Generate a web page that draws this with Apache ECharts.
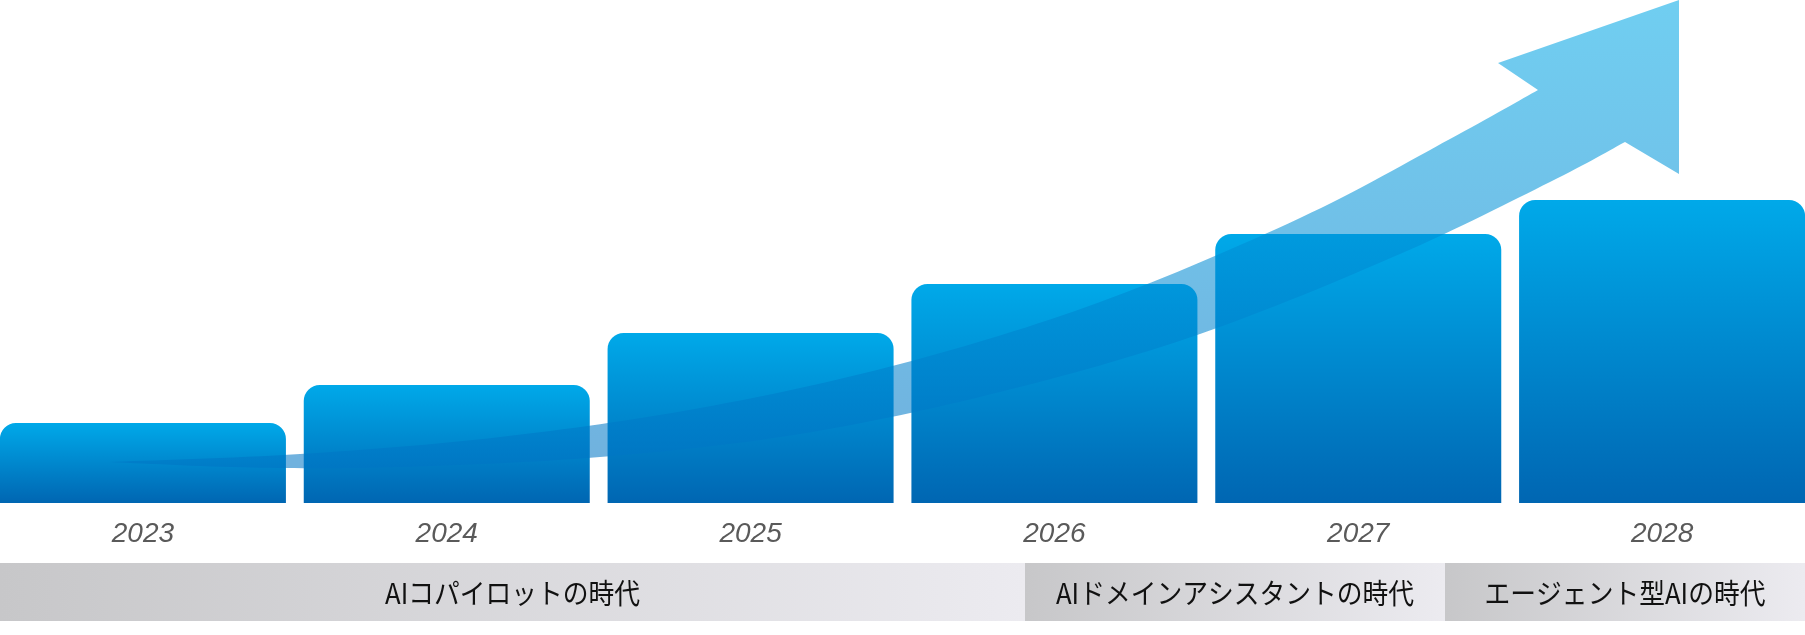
<!DOCTYPE html>
<html>
<head>
<meta charset="utf-8">
<script src="https://cdn.jsdelivr.net/npm/echarts@6/dist/echarts.min.js"></script>
<style>
html,body{margin:0;padding:0;background:#fff;overflow:hidden;width:1805px;height:635px;position:relative;}
#main{position:absolute;left:-9px;top:0;width:1823px;height:635px;}
</style>
</head>
<body>
<div id="main"></div>
<script>
// ---- data ----
const years = ['2023', '2024', '2025', '2026', '2027', '2028'];
const values = [80, 118, 170, 219, 269, 303];
const eraLabels = ['AIコパイロットの時代', 'AIドメインアシスタントの時代', 'エージェント型AIの時代'];

// ---- layout (decoration, page pixels) ----
const OX = 9; // chart canvas is shifted 9px left of the page
const eraSpans = [[0, 1025], [1025, 1445], [1445, 1805]];
const arrowUpper = [[109,462],[300,454],[500,437],[700,408],[900,364],[1100,302],[1300,218],[1450,139],[1538,90]];
const arrowLower = [[109,462],[250,467.5],[400,467],[600,457],[800,434],[1000,392],[1200,334],[1400,254],[1550,182],[1625,142]];
const arrowHead = [[1498,63],[1679,0],[1679,174]];

function catmull(pts, steps) {
  const out = [];
  for (let i = 0; i < pts.length - 1; i++) {
    const p0 = pts[Math.max(i - 1, 0)], p1 = pts[i], p2 = pts[i + 1], p3 = pts[Math.min(i + 2, pts.length - 1)];
    for (let s = 0; s < steps; s++) {
      const t = s / steps, t2 = t * t, t3 = t2 * t;
      const f = (a, b, c, d) => 0.5 * ((2 * b) + (-a + c) * t + (2 * a - 5 * b + 4 * c - d) * t2 + (-a + 3 * b - 3 * c + d) * t3);
      out.push([f(p0[0], p1[0], p2[0], p3[0]), f(p0[1], p1[1], p2[1], p3[1])]);
    }
  }
  out.push(pts[pts.length - 1]);
  return out;
}

const up = catmull(arrowUpper, 16);
const lo = catmull(arrowLower, 16).reverse();
const arrowPoly = up.concat(arrowHead, lo).map(p => [p[0] + OX, p[1]]);

const chart = echarts.init(document.getElementById('main'), null, {renderer: 'canvas'});

const graphics = [];
eraSpans.forEach((sp, i) => {
  graphics.push({
    type: 'rect',
    z: 1,
    shape: {x: sp[0] + OX, y: 563, width: sp[1] - sp[0], height: 58},
    style: {
      fill: new echarts.graphic.LinearGradient(0, 0, 1, 0, [
        {offset: 0, color: '#c7c7c9'},
        {offset: 1, color: '#ecebf0'}
      ])
    }
  });
  graphics.push({
    type: 'text',
    z: 2,
    x: (sp[0] + sp[1]) / 2 + OX,
    y: 593,
    scaleX: 0.92,
    style: {
      text: eraLabels[i],
      fill: '#111',
      font: '28px "Noto Sans CJK JP", sans-serif',
      align: 'center',
      verticalAlign: 'middle'
    }
  });
});
graphics.push({
  type: 'polygon',
  z: 100,
  shape: {points: arrowPoly},
  style: {
    fill: new echarts.graphic.LinearGradient(0, 0, 0, 470, [
      {offset: 0, color: 'rgba(0,168,230,0.56)'},
      {offset: 1, color: 'rgba(0,116,196,0.56)'}
    ], true)
  }
});

chart.setOption({
  animation: false,
  backgroundColor: '#ffffff',
  grid: {left: 0, right: 0, top: 173, bottom: 132, containLabel: false},
  xAxis: {
    type: 'category',
    data: years,
    axisLine: {show: false},
    axisTick: {show: false},
    axisLabel: {
      margin: 17,
      fontSize: 28,
      lineHeight: 28,
      fontStyle: 'italic',
      fontFamily: '"Liberation Sans", Arial, sans-serif',
      color: '#5a5a5a'
    }
  },
  yAxis: {
    type: 'value',
    min: 0,
    max: 330,
    show: false,
    splitLine: {show: false}
  },
  series: [{
    type: 'bar',
    data: values,
    barWidth: 286,
    itemStyle: {
      borderRadius: [16, 16, 0, 0],
      color: new echarts.graphic.LinearGradient(0, 0, 0, 1, [
        {offset: 0, color: '#00a9e9'},
        {offset: 1, color: '#0066b2'}
      ])
    }
  }],
  graphic: {elements: graphics}
});
</script>
</body>
</html>
